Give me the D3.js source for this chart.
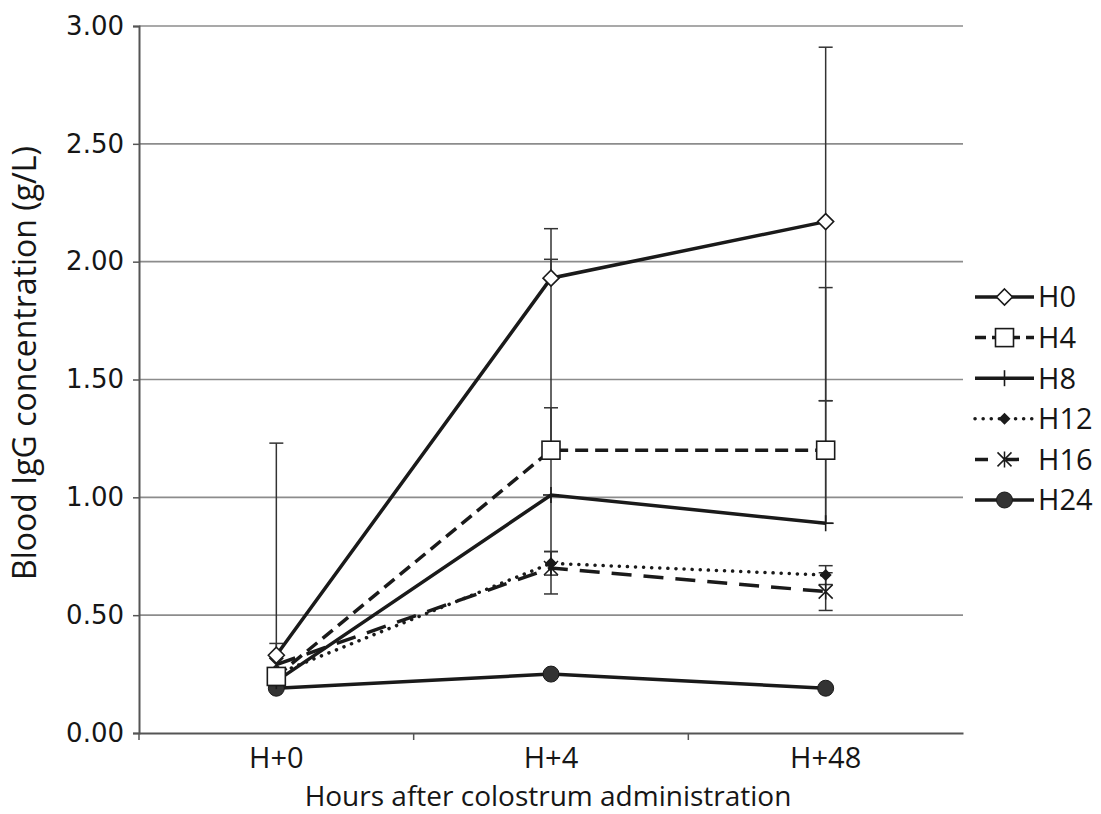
<!DOCTYPE html>
<html>
<head>
<meta charset="utf-8">
<script src="https://cdn.jsdelivr.net/npm/d3@7"></script>
<style>
  html, body { margin: 0; padding: 0; background: #fff; }
</style>
</head>
<body>
<div id="chart"></div>
<script>
'use strict';

// categories and tick labels
var categories = ["H+0", "H+4", "H+48"];
var yTicks = [0, 0.5, 1, 1.5, 2, 2.5, 3];
var seriesNames = ["H0", "H4", "H8", "H12", "H16", "H24"];

// series values (g/L)
var h0 = [0.33, 1.93, 2.17];
var h4 = [0.24, 1.20, 1.20];
var h8 = [0.22, 1.01, 0.89];
var h12 = [0.25, 0.72, 0.67];
var h16 = [0.29, 0.70, 0.60];
var h24 = [0.19, 0.25, 0.19];

// error bars, null = not drawn
var h0Plus = [0.90, 0.21, 0.74], h0Minus = [null, null, 0.76];
var h4Plus = [null, 0.81, 0.69], h4Minus = [null, null, 0.31];
var h8Plus = [null, 0.37, 0.52], h8Minus = [null, 0.42, null];
var h12Plus = [null, 0.05, 0.04], h12Minus = [null, 0.05, 0.04];
var h16Plus = [0.09, 0.07, 0.08], h16Minus = [null, null, 0.08];
var h24Plus = [null, null, null], h24Minus = [null, null, null];

var width = 1101, height = 814;
var plotLeft = 139, plotRight = 963, plotTop = 26, plotBottom = 733;
var ink = "#1a1a1a";
var textInk = "#161616";

var series = [
  {name: "H0", values: h0, plus: h0Plus, minus: h0Minus, dash: null, marker: "diamondOpen"},
  {name: "H4", values: h4, plus: h4Plus, minus: h4Minus, dash: "13,7", marker: "square"},
  {name: "H8", values: h8, plus: h8Plus, minus: h8Minus, dash: null, marker: "plus"},
  {name: "H12", values: h12, plus: h12Plus, minus: h12Minus, dash: "0.1,8", marker: "diamondFill"},
  {name: "H16", values: h16, plus: h16Plus, minus: h16Minus, dash: "20,12", marker: "star"},
  {name: "H24", values: h24, plus: h24Plus, minus: h24Minus, dash: null, marker: "circle"}
];

var svg = d3.select("#chart").append("svg")
  .attr("width", width)
  .attr("height", height);

var x = d3.scaleBand().domain(categories).range([plotLeft, plotRight]);
var y = d3.scaleLinear().domain([0, 3]).range([plotBottom, plotTop]);
function cx(i) { return x(categories[i]) + x.bandwidth() / 2; }

// gridlines
svg.append("g")
  .selectAll("line")
  .data(yTicks.filter(function(d) { return d > 0; }))
  .enter().append("line")
    .attr("x1", plotLeft).attr("x2", plotRight)
    .attr("y1", function(d) { return y(d); })
    .attr("y2", function(d) { return y(d); })
    .attr("stroke", "#8c8c8c")
    .attr("stroke-width", 1.6);

// y axis
var yAxis = svg.append("g")
  .attr("transform", "translate(" + plotLeft + ",0)")
  .call(d3.axisLeft(y).tickValues(yTicks).tickSize(6).tickPadding(9)
    .tickFormat(d3.format(".2f")));
yAxis.select(".domain").attr("stroke", "#555").attr("stroke-width", 2);
yAxis.selectAll(".tick line").attr("stroke", "#555").attr("stroke-width", 1.5);
yAxis.selectAll("text")
  .attr("font-family", "DejaVu Sans, Verdana, sans-serif")
  .attr("font-size", 26)
  .attr("fill", textInk);

// x axis
var xAxis = svg.append("g")
  .attr("transform", "translate(0," + plotBottom + ")")
  .call(d3.axisBottom(x).tickSize(0).tickPadding(14));
xAxis.select(".domain").attr("stroke", "#555").attr("stroke-width", 2);
xAxis.selectAll("text")
  .attr("font-family", "Open Sans, sans-serif")
  .attr("font-size", 29)
  .attr("fill", textInk);
xAxis.selectAll(".bound")
  .data(categories)
  .enter().append("line")
    .attr("class", "bound")
    .attr("x1", function(d) { return x(d); })
    .attr("x2", function(d) { return x(d); })
    .attr("y1", 0).attr("y2", 7)
    .attr("stroke", "#555")
    .attr("stroke-width", 1.5);

// axis titles
svg.append("text")
  .attr("x", 548)
  .attr("y", 806)
  .attr("text-anchor", "middle")
  .attr("font-family", "Open Sans, sans-serif")
  .attr("font-size", 28)
  .attr("fill", textInk)
  .text("Hours after colostrum administration");

svg.append("text")
  .attr("transform", "translate(36,363) rotate(-90)")
  .attr("text-anchor", "middle")
  .attr("font-family", "Open Sans, sans-serif")
  .attr("font-size", 32)
  .attr("fill", textInk)
  .text("Blood IgG concentration (g/L)");

// error bars
var errG = svg.append("g").attr("stroke", "#333").attr("stroke-width", 1.5);
series.forEach(function(s) {
  s.values.forEach(function(v, i) {
    [s.plus[i], s.minus[i]].forEach(function(raw, k) {
      if (raw === null) return;
      var end = k === 0 ? v + raw : v - raw;
      errG.append("line")
        .attr("x1", cx(i)).attr("x2", cx(i))
        .attr("y1", y(v)).attr("y2", y(end));
      errG.append("line")
        .attr("x1", cx(i) - 7).attr("x2", cx(i) + 7)
        .attr("y1", y(end)).attr("y2", y(end));
    });
  });
});

var line = d3.line()
  .x(function(d, i) { return cx(i); })
  .y(function(d) { return y(d); });

function drawMarker(g, type, px, py) {
  if (type === "diamondOpen") {
    g.append("path")
      .attr("d", "M" + px + "," + (py - 8) + "L" + (px + 8) + "," + py + "L" + px + "," + (py + 8) + "L" + (px - 8) + "," + py + "Z")
      .attr("fill", "#fff").attr("stroke", ink).attr("stroke-width", 1.6);
  } else if (type === "square") {
    g.append("rect")
      .attr("x", px - 9).attr("y", py - 9).attr("width", 18).attr("height", 18)
      .attr("fill", "#fff").attr("stroke", ink).attr("stroke-width", 1.6);
  } else if (type === "plus") {
    g.append("line")
      .attr("x1", px).attr("x2", px).attr("y1", py - 8).attr("y2", py + 8)
      .attr("stroke", ink).attr("stroke-width", 1.6);
    g.append("line")
      .attr("x1", px - 8).attr("x2", px + 8).attr("y1", py).attr("y2", py)
      .attr("stroke", ink).attr("stroke-width", 1.6);
  } else if (type === "diamondFill") {
    g.append("path")
      .attr("d", "M" + px + "," + (py - 6) + "L" + (px + 6) + "," + py + "L" + px + "," + (py + 6) + "L" + (px - 6) + "," + py + "Z")
      .attr("fill", ink);
  } else if (type === "star") {
    g.append("path")
      .attr("d", "M" + (px - 7) + "," + (py - 7) + "L" + (px + 7) + "," + (py + 7) +
                 "M" + (px + 7) + "," + (py - 7) + "L" + (px - 7) + "," + (py + 7) +
                 "M" + px + "," + (py - 8) + "L" + px + "," + (py + 8))
      .attr("fill", "none").attr("stroke", ink).attr("stroke-width", 1.5);
  } else if (type === "circle") {
    g.append("circle")
      .attr("cx", px).attr("cy", py).attr("r", 8)
      .attr("fill", "#333").attr("stroke", ink).attr("stroke-width", 1);
  }
}

// lines and markers, bottom series first
var plotG = svg.append("g");
series.slice().reverse().forEach(function(s) {
  plotG.append("path")
    .datum(s.values)
    .attr("d", line)
    .attr("fill", "none")
    .attr("stroke", ink)
    .attr("stroke-width", 3.5)
    .attr("stroke-linecap", s.name === "H12" ? "round" : "butt")
    .attr("stroke-dasharray", s.dash);
});
series.slice().reverse().forEach(function(s) {
  s.values.forEach(function(v, i) { drawMarker(plotG, s.marker, cx(i), y(v)); });
});

// legend
var legend = svg.append("g");
var legendY = d3.scalePoint().domain(seriesNames).range([297, 500]);
series.forEach(function(s) {
  var ly = legendY(s.name);
  legend.append("line")
    .attr("x1", 975).attr("x2", 1034)
    .attr("y1", ly).attr("y2", ly)
    .attr("stroke", ink)
    .attr("stroke-width", 3.5)
    .attr("stroke-linecap", s.name === "H12" ? "round" : "butt")
    .attr("stroke-dasharray", s.name === "H4" ? "11,6" : s.name === "H16" ? "13,18" : s.dash);
  drawMarker(legend, s.marker, 1004.5, ly);
  legend.append("text")
    .attr("x", 1038).attr("y", ly)
    .attr("dy", "0.36em")
    .attr("font-family", "Open Sans, sans-serif")
    .attr("font-size", 29)
    .attr("fill", textInk)
    .text(s.name);
});
</script>
</body>
</html>
